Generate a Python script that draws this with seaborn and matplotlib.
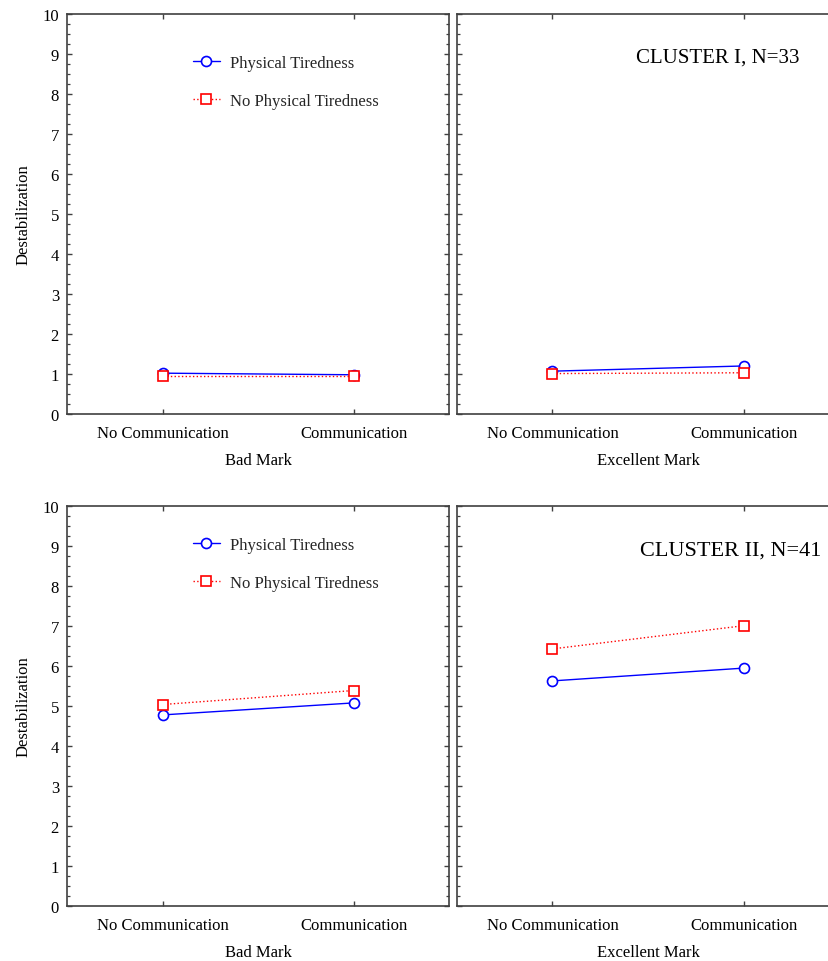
import matplotlib
matplotlib.use("Agg")
import matplotlib.pyplot as plt
import seaborn as sns
import pandas as pd
from matplotlib.ticker import MultipleLocator

sns.set_theme(style="white")
plt.rcParams['font.family'] = ['Liberation Serif', 'DejaVu Serif']

categories = ["No Communication", "Communication"]
series_names = ["Physical Tiredness", "No Physical Tiredness"]
panel_xlabels = ["Bad Mark", "Excellent Mark"]
cluster_titles = ["CLUSTER I, N=33", "CLUSTER II, N=41"]

# Cluster I
c1_bad_pt = [1.02, 0.98]
c1_bad_npt = [0.96, 0.96]
c1_exc_pt = [1.07, 1.20]
c1_exc_npt = [1.01, 1.03]
# Cluster II
c2_bad_pt = [4.77, 5.07]
c2_bad_npt = [5.03, 5.38]
c2_exc_pt = [5.62, 5.94]
c2_exc_npt = [6.42, 7.00]

panels = [
    [(c1_bad_pt, c1_bad_npt), (c1_exc_pt, c1_exc_npt)],
    [(c2_bad_pt, c2_bad_npt), (c2_exc_pt, c2_exc_npt)],
]

W, H = 829, 962
fig = plt.figure(figsize=(W / 100, H / 100), dpi=100)

def rect(x0, y0, x1, y1):
    return [x0 / W, 1 - y1 / H, (x1 - x0) / W, (y1 - y0) / H]

rows_y = [(14.7, 415.0), (506.7, 906.7)]
cols_x = [(67.3, 449.3), (456.7, 839.5)]
legend_top = [0.897, 0.922]
title_x = [0.468, 0.479]
title_y = [0.892, 0.888]
title_size = [15, 16]

spine_col = "#404040"
for r in range(2):
    for c in range(2):
        ax = fig.add_axes(rect(cols_x[c][0], rows_y[r][0], cols_x[c][1], rows_y[r][1]))
        pt, npt = panels[r][c]
        df = pd.DataFrame({
            "cond": categories * 2,
            "val": pt + npt,
            "grp": [series_names[0]] * 2 + [series_names[1]] * 2,
        })
        sns.lineplot(data=df[df.grp == series_names[0]], x="cond", y="val", ax=ax,
                     color="#0000ff", linewidth=1.0, linestyle="-", marker="o",
                     markersize=7.2, markerfacecolor="white", markeredgecolor="#0000ff",
                     markeredgewidth=1.2, label=series_names[0], legend=False)
        sns.lineplot(data=df[df.grp == series_names[1]], x="cond", y="val", ax=ax,
                     color="#ff0000", linewidth=1.0, linestyle=":", marker="s",
                     markersize=7.0, markerfacecolor="white", markeredgecolor="#ff0000",
                     markeredgewidth=1.2, label=series_names[1], legend=False)
        ax.set_xlim(-0.5, 1.5)
        ax.set_ylim(0, 10)
        ax.yaxis.set_major_locator(MultipleLocator(1))
        ax.yaxis.set_minor_locator(MultipleLocator(0.25))
        ax.tick_params(axis="both", which="both", direction="in", top=True, right=True,
                       left=True, bottom=True, colors="black", labelsize=12)
        ax.tick_params(axis="both", which="major", length=3.5, width=1, color=spine_col)
        ax.tick_params(axis="y", which="minor", length=2.2, width=0.9, color=spine_col)
        ax.tick_params(axis="y", which="major", pad=6)
        ax.tick_params(axis="x", which="major", pad=8)
        for s in ax.spines.values():
            s.set_color(spine_col)
            s.set_linewidth(1.2)
        ax.set_xlabel(panel_xlabels[c], fontsize=12, labelpad=8, color="black")
        if c == 0:
            ax.set_ylabel("Destabilization", fontsize=12, labelpad=8, color="black")
            ax.legend(frameon=False, loc="upper left", bbox_to_anchor=(0.329, legend_top[r]),
                      borderaxespad=0, borderpad=0, handlelength=1.6, handletextpad=0.6,
                      labelspacing=1.3, fontsize=12)
        else:
            ax.set_ylabel("")
            ax.tick_params(axis="y", labelleft=False)
            ax.text(title_x[r], title_y[r], cluster_titles[r], transform=ax.transAxes,
                    fontsize=title_size[r], va="center", ha="left", color="black")

fig.savefig("out.png", dpi=100)
